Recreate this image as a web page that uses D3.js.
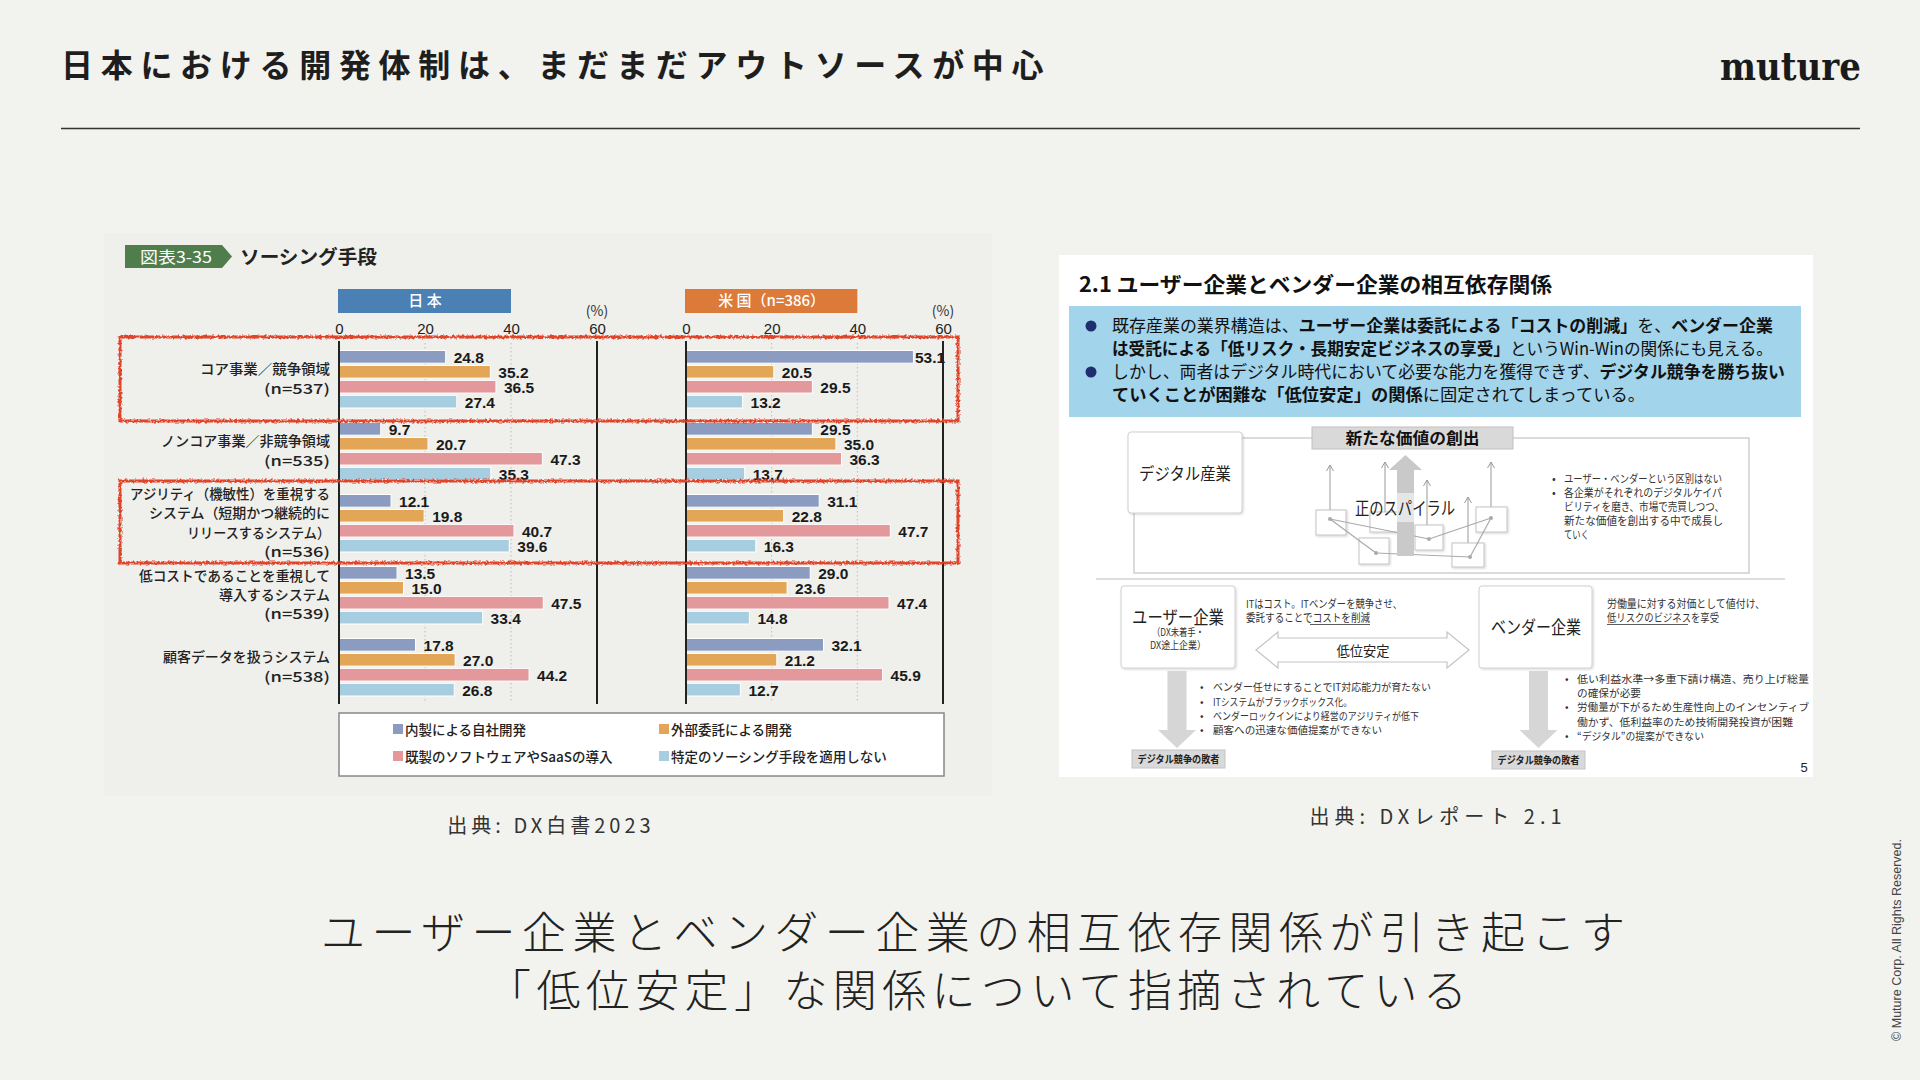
<!DOCTYPE html>
<html><head><meta charset="utf-8">
<script src="https://cdn.jsdelivr.net/npm/d3@7"></script>
<style>html,body{margin:0;padding:0;background:#f2f2ee;} svg{display:block;}</style>
</head><body><svg id="s" width="1920" height="1080"></svg>
<script>
// ---------------- data ----------------
const categories = ["core", "noncore", "agility", "lowcost", "customer"];
const categoryLines = [
  ["コア事業／競争領域", "(n=537)"],
  ["ノンコア事業／非競争領域", "(n=535)"],
  ["アジリティ（機敏性）を重視する", "システム（短期かつ継続的に", "リリースするシステム）", "(n=536)"],
  ["低コストであることを重視して", "導入するシステム", "(n=539)"],
  ["顧客データを扱うシステム", "(n=538)"]
];
const seriesNames = ["内製による自社開発", "外部委託による開発", "既製のソフトウェアやSaaSの導入", "特定のソーシング手段を適用しない"];
const japanInhouse   = [24.8, 9.7, 12.1, 13.5, 17.8];
const japanOutsource = [35.2, 20.7, 19.8, 15.0, 27.0];
const japanSaaS      = [36.5, 47.3, 40.7, 47.5, 44.2];
const japanNone      = [27.4, 35.3, 39.6, 33.4, 26.8];
const usInhouse      = [53.1, 29.5, 31.1, 29.0, 32.1];
const usOutsource    = [20.5, 35.0, 22.8, 23.6, 21.2];
const usSaaS         = [29.5, 36.3, 47.7, 47.4, 45.9];
const usNone         = [13.2, 13.7, 16.3, 14.8, 12.7];
const tickValues = [0, 20, 40, 60];
const panelHeaders = ["日 本", "米 国（n=386）"];

// ---------------- setup ----------------
const JP = "'Noto Sans CJK JP','Noto Sans',sans-serif";
const NUM = "'Liberation Sans Narrow','Liberation Sans',sans-serif";
const seriesColors = ["#8c9cc1", "#e2a656", "#e3999c", "#a7cde0"];
const svg = d3.select("#s");
const defs = svg.append("defs");
const rough = defs.append("filter").attr("id", "rough").attr("x", "-3%").attr("y", "-20%").attr("width", "106%").attr("height", "140%");
rough.append("feTurbulence").attr("type", "fractalNoise").attr("baseFrequency", "0.4").attr("numOctaves", 2).attr("seed", 4).attr("result", "n");
rough.append("feDisplacementMap").attr("in", "SourceGraphic").attr("in2", "n").attr("scale", 4).attr("xChannelSelector", "R").attr("yChannelSelector", "G");
const shadow = defs.append("filter").attr("id", "sh").attr("x", "-10%").attr("y", "-10%").attr("width", "130%").attr("height", "130%");
shadow.append("feDropShadow").attr("dx", 1).attr("dy", 1).attr("stdDeviation", 1.2).attr("flood-color", "#000").attr("flood-opacity", 0.18);

function T(p, x, y, s, o = {}) {
  const t = p.append("text").attr("x", x).attr("y", y).text(s)
    .attr("font-family", o.family || JP).attr("font-size", o.size || 12)
    .attr("font-weight", o.weight || 400).attr("fill", o.fill || "#222")
    .attr("text-anchor", o.anchor || "start");
  if (o.len) t.attr("textLength", o.len).attr("lengthAdjust", o.adj || "spacingAndGlyphs");
  if (o.ls) t.attr("letter-spacing", o.ls);
  return t;
}

svg.append("rect").attr("width", 1920).attr("height", 1080).attr("fill", "#f2f2ee");

// ---------------- header ----------------
T(svg, 61, 77, "日本における開発体制は、まだまだアウトソースが中心", { size: 32, weight: 700, ls: 7.7, fill: "#1e1e1e" });
T(svg, 1720, 80, "muture", { family: "'DejaVu Serif',serif", size: 40, weight: 700, len: 141, fill: "#1a1a1a" });
svg.append("line").attr("x1", 61).attr("x2", 1860).attr("y1", 128.5).attr("y2", 128.5).attr("stroke", "#333").attr("stroke-width", 1.5);

// ---------------- left chart image ----------------
const L = svg.append("g");
L.append("rect").attr("x", 104).attr("y", 233).attr("width", 888).attr("height", 563).attr("fill", "#efefeb");
L.append("path").attr("d", "M125,245 H222 L232,256.5 L222,268 H125 Z").attr("fill", "#4f7d4b");
T(L, 176, 263, "図表3-35", { size: 16, fill: "#fff", anchor: "middle", len: 72 });
T(L, 240, 264, "ソーシング手段", { size: 19, weight: 700, fill: "#222", len: 137 });

const yBand = d3.scaleBand().domain(categories).range([343, 703]);
const inner = d3.scaleBand().domain(d3.range(4)).range([7.5, 65]).paddingInner(0.15);

function drawPanel(xRange, data, header, headerColor) {
  const x = d3.scaleLinear().domain([0, 60]).range(xRange);
  const g = L.append("g");
  g.append("rect").attr("x", x(0) - 1).attr("y", 289).attr("width", x(40) - x(0) + 1).attr("height", 24).attr("fill", headerColor);
  T(g, (x(0) + x(40)) / 2, 306, header, { size: 15, fill: "#fff", anchor: "middle", weight: 500 });
  T(g, x(60), 316, "(%)", { size: 14, anchor: "middle", fill: "#333" });
  g.selectAll(".grid").data([20, 40]).join("line")
    .attr("x1", d => x(d)).attr("x2", d => x(d)).attr("y1", 343).attr("y2", 703)
    .attr("stroke", "#bbb").attr("stroke-width", 1).attr("stroke-dasharray", "1.5,2.5");
  const ax = g.append("g").attr("transform", "translate(0,340)")
    .call(d3.axisTop(x).tickValues(tickValues).tickSize(0).tickPadding(6).tickFormat(d3.format("d")));
  ax.select(".domain").remove();
  ax.selectAll("text").attr("font-family", NUM).attr("font-size", 15).attr("fill", "#222");
  data.forEach((vals, si) => {
    g.selectAll(null).data(vals).join("rect")
      .attr("x", x(0)).attr("y", (d, i) => yBand(categories[i]) + inner(si))
      .attr("width", d => x(d) - x(0)).attr("height", inner.bandwidth())
      .attr("fill", seriesColors[si]).attr("stroke", "#fff").attr("stroke-width", 1);
    g.selectAll(null).data(vals).join("text")
      .attr("x", d => Math.min(x(d) + 8, x(60) - 28)).attr("y", (d, i) => yBand(categories[i]) + inner(si) + inner.bandwidth())
      .text(d => d.toFixed(1)).attr("font-family", NUM).attr("font-weight", 700)
      .attr("font-size", 15.5).attr("fill", "#1a1a1a");
  });
  g.append("line").attr("x1", x(0)).attr("x2", x(0)).attr("y1", 341).attr("y2", 704).attr("stroke", "#222").attr("stroke-width", 2);
  g.append("line").attr("x1", x(60)).attr("x2", x(60)).attr("y1", 341).attr("y2", 704).attr("stroke", "#222").attr("stroke-width", 2);
  return x;
}
drawPanel([339, 597], [japanInhouse, japanOutsource, japanSaaS, japanNone], panelHeaders[0], "#4b80b5");
drawPanel([686, 943], [usInhouse, usOutsource, usSaaS, usNone], panelHeaders[1], "#dc7a39");

// category labels (widths)
const labelWidths = [[130, 66], [169, 66], [200, 181, 143, 66], [191, 111, 66], [167, 66]];
categoryLines.forEach((lines, ci) => {
  const cy = yBand(categories[ci]) + yBand.bandwidth() / 2;
  lines.forEach((ln, li) => {
    T(L, 330, cy + (li - (lines.length - 1) / 2) * 19.3 + 5, ln, { size: 14, weight: 500, anchor: "end", fill: "#222", len: labelWidths[ci][li] });
  });
});

// legend
L.append("rect").attr("x", 339).attr("y", 713).attr("width", 605).attr("height", 63).attr("fill", "#fff").attr("stroke", "#888").attr("stroke-width", 1.5);
const legendPos = [[393, 735], [659, 735], [393, 762], [659, 762]];
seriesNames.forEach((nm, i) => {
  L.append("rect").attr("x", legendPos[i][0]).attr("y", legendPos[i][1] - 11).attr("width", 10).attr("height", 10).attr("fill", seriesColors[i]);
  T(L, legendPos[i][0] + 12, legendPos[i][1], nm, { size: 13.5, weight: 500, fill: "#222" });
});

// red highlight boxes
[[337, 421], [481, 563]].forEach(([y0, y1]) => {
  L.append("rect").attr("x", 120).attr("y", y0).attr("width", 838).attr("height", y1 - y0)
    .attr("fill", "none").attr("stroke", "#e0452c").attr("stroke-width", 3).attr("filter", "url(#rough)");
});

T(svg, 551, 833, "出典: DX白書2023", { size: 20, ls: 4, anchor: "middle", fill: "#333" });
T(svg, 1438, 824, "出典: DXレポート 2.1", { size: 20, ls: 5, anchor: "middle", fill: "#333" });

// ---------------- right report image ----------------
const R = svg.append("g");
R.append("rect").attr("x", 1059).attr("y", 255).attr("width", 754).attr("height", 522).attr("fill", "#fff");
T(R, 1079, 292, "2.1 ユーザー企業とベンダー企業の相互依存関係", { size: 21, weight: 700, len: 473, fill: "#111" });
R.append("rect").attr("x", 1069).attr("y", 306).attr("width", 732).attr("height", 111).attr("fill", "#a2d4eb");
const blueLines = [
  { y: 332, len: 661, bullet: true, parts: [["既存産業の業界構造は、", 0], ["ユーザー企業は委託による「コストの削減」", 1], ["を、", 0], ["ベンダー企業", 1]] },
  { y: 355, len: 661, bullet: false, parts: [["は受託による「低リスク・長期安定ビジネスの享受」", 1], ["というWin-Winの関係にも見える。", 0]] },
  { y: 378, len: 673, bullet: true, parts: [["しかし、両者はデジタル時代において必要な能力を獲得できず、", 0], ["デジタル競争を勝ち抜い", 1]] },
  { y: 401, len: 533, bullet: false, parts: [["ていくことが困難な「低位安定」の関係", 1], ["に固定されてしまっている。", 0]] }
];
blueLines.forEach(l => {
  if (l.bullet) R.append("circle").attr("cx", 1091).attr("cy", l.y - 6).attr("r", 5.5).attr("fill", "#1d2f6e");
  const t = R.append("text").attr("x", 1112).attr("y", l.y).attr("font-family", JP).attr("font-size", 17)
    .attr("fill", "#111").attr("textLength", l.len).attr("lengthAdjust", "spacingAndGlyphs");
  l.parts.forEach(p => t.append("tspan").text(p[0]).attr("font-weight", p[1] ? 700 : 400));
});

// upper diagram
R.append("rect").attr("x", 1134).attr("y", 438).attr("width", 615).attr("height", 135).attr("fill", "none").attr("stroke", "#c4c4c4").attr("stroke-width", 1.2);
R.append("rect").attr("x", 1128).attr("y", 432).attr("width", 114).attr("height", 81).attr("rx", 3).attr("fill", "#fff").attr("stroke", "#d0d0d0").attr("filter", "url(#sh)");
T(R, 1185, 480, "デジタル産業", { size: 17, anchor: "middle", len: 92, fill: "#222" });
R.append("rect").attr("x", 1312).attr("y", 427).attr("width", 201).attr("height", 22).attr("fill", "#d9d9d9").attr("stroke", "#c0c0c0");
T(R, 1412.5, 444, "新たな価値の創出", { size: 16, weight: 700, anchor: "middle", len: 134, fill: "#111" });

const thin = [[1330, 465, 510], [1385, 462, 512], [1427, 480, 525], [1468, 497, 543], [1491, 462, 507]];
thin.forEach(([x, y0, y1]) => {
  R.append("line").attr("x1", x).attr("x2", x).attr("y1", y0).attr("y2", y1).attr("stroke", "#999").attr("stroke-width", 1);
  R.append("path").attr("d", `M${x - 3.5},${y0 + 6} L${x},${y0} L${x + 3.5},${y0 + 6}`).attr("fill", "none").attr("stroke", "#999").attr("stroke-width", 1);
});
const smallBoxes = [[1316, 510, 30, 25], [1359, 538, 30, 26], [1370, 512, 29, 20], [1415, 525, 28, 25], [1452, 543, 32, 24], [1476, 507, 31, 25]];
smallBoxes.forEach(([x, y, w, h]) => R.append("rect").attr("x", x).attr("y", y).attr("width", w).attr("height", h).attr("fill", "#fff").attr("stroke", "#c4c4c4").attr("filter", "url(#sh)"));
const dots = { a: [1330, 519], b: [1376, 553], d: [1429, 539], e: [1470, 557], f: [1491, 518] };
[["a", "d"], ["a", "b"], ["b", "e"], ["d", "f"], ["e", "f"]].forEach(([p, q]) => {
  R.append("line").attr("x1", dots[p][0]).attr("y1", dots[p][1]).attr("x2", dots[q][0]).attr("y2", dots[q][1]).attr("stroke", "#aaa").attr("stroke-width", 1.2);
});
Object.values(dots).forEach(([x, y]) => R.append("circle").attr("cx", x).attr("cy", y).attr("r", 2).attr("fill", "#aaa"));
R.append("path").attr("d", "M1405.5,455 L1422,470 L1414,470 L1414,556 L1397,556 L1397,470 L1389,470 Z").attr("fill", "#c9c9c9");
R.append("rect").attr("x", 1397).attr("y", 493).attr("width", 17).attr("height", 29).attr("fill", "#e6e6e6");
T(R, 1405, 515, "正のスパイラル", { size: 18, anchor: "middle", len: 100, fill: "#222" });
const upBul = [[483, "ユーザー・ベンダーという区別はない", 158, true], [497, "各企業がそれぞれのデジタルケイパ", 158, true], [511, "ビリティを磨き、市場で売買しつつ、", 160, false], [525, "新たな価値を創出する中で成長し", 159, false], [539, "ていく", 25, false]];
upBul.forEach(([y, s, len, b]) => {
  if (b) T(R, 1552, y, "•", { size: 11, fill: "#333" });
  T(R, 1564, y, s, { size: 11, len: len, fill: "#333" });
});
R.append("line").attr("x1", 1096).attr("x2", 1785).attr("y1", 579).attr("y2", 579).attr("stroke", "#bbb").attr("stroke-width", 1.2);

// lower diagram
R.append("rect").attr("x", 1121).attr("y", 586).attr("width", 114).attr("height", 82).attr("rx", 3).attr("fill", "#fff").attr("stroke", "#d0d0d0").attr("filter", "url(#sh)");
T(R, 1178, 624, "ユーザー企業", { size: 18, anchor: "middle", len: 92, fill: "#222" });
T(R, 1178, 636, "（DX未着手・", { size: 10.5, anchor: "middle", len: 52, fill: "#333" });
T(R, 1178, 649, "DX途上企業）", { size: 10.5, anchor: "middle", len: 56, fill: "#333" });
R.append("rect").attr("x", 1479).attr("y", 586).attr("width", 113).attr("height", 82).attr("rx", 3).attr("fill", "#fff").attr("stroke", "#d0d0d0").attr("filter", "url(#sh)");
T(R, 1536, 634, "ベンダー企業", { size: 18, anchor: "middle", len: 90, fill: "#222" });
T(R, 1246, 608, "ITはコスト。ITベンダーを競争させ、", { size: 11, len: 156, fill: "#333" });
T(R, 1246, 622, "委託することでコストを削減", { size: 11, len: 124, fill: "#333" });
R.append("line").attr("x1", 1310).attr("x2", 1370).attr("y1", 624.5).attr("y2", 624.5).attr("stroke", "#333").attr("stroke-width", 0.8);
T(R, 1607, 608, "労働量に対する対価として値付け、", { size: 11, len: 158, fill: "#333" });
T(R, 1607, 622, "低リスクのビジネスを享受", { size: 11, len: 112, fill: "#333" });
R.append("line").attr("x1", 1607).attr("x2", 1688).attr("y1", 624.5).attr("y2", 624.5).attr("stroke", "#333").attr("stroke-width", 0.8);
R.append("path").attr("d", "M1256,650 L1278,632 L1278,638 L1447,638 L1447,632 L1469,650 L1447,668 L1447,662 L1278,662 L1278,668 Z")
  .attr("fill", "#fff").attr("stroke", "#c4c4c4").attr("stroke-width", 1.2);
T(R, 1363, 656, "低位安定", { size: 14, anchor: "middle", len: 53, fill: "#222" });
[1177, 1538.5].forEach(cx => {
  R.append("path").attr("d", `M${cx - 9.5},671 L${cx + 9.5},671 L${cx + 9.5},730 L${cx + 19},730 L${cx},748 L${cx - 19},730 L${cx - 9.5},730 Z`).attr("fill", "#d6d6d6");
});
const leftBul = [[691, "ベンダー任せにすることでIT対応能力が育たない", 218], [706, "ITシステムがブラックボックス化。", 139], [720, "ベンダーロックインにより経営のアジリティが低下", 206], [734, "顧客への迅速な価値提案ができない", 169]];
leftBul.forEach(([y, s, len]) => {
  T(R, 1200, y, "•", { size: 10.5, fill: "#333" });
  T(R, 1213, y, s, { size: 10.5, len: len, fill: "#333" });
});
const rightBul = [[683, "低い利益水準→多重下請け構造、売り上げ総量", 232, true], [697, "の確保が必要", 64, false], [711, "労働量が下がるため生産性向上のインセンティブ", 232, true], [726, "働かず、低利益率のため技術開発投資が困難", 216, false], [740, "“デジタル”の提案ができない", 127, true]];
rightBul.forEach(([y, s, len, b]) => {
  if (b) T(R, 1565, y, "•", { size: 10.5, fill: "#333" });
  T(R, 1577, y, s, { size: 10.5, len: len, fill: "#333" });
});
[[1132, 750], [1492, 751]].forEach(([x, y]) => {
  R.append("rect").attr("x", x).attr("y", y).attr("width", 93).attr("height", 18).attr("fill", "#d9d9d9").attr("stroke", "#c4c4c4");
  T(R, x + 46.5, y + 13, "デジタル競争の敗者", { size: 10.5, weight: 700, anchor: "middle", len: 82, fill: "#222" });
});
T(R, 1804, 772, "5", { family: "'Liberation Sans',sans-serif", size: 13, anchor: "middle", fill: "#222" });

// ---------------- bottom message ----------------
T(svg, 973, 949, "ユーザー企業とベンダー企業の相互依存関係が引き起こす", { size: 44, weight: 300, anchor: "middle", fill: "#222", len: 1304, adj: "spacing" });
T(svg, 977, 1007, "「低位安定」な関係について指摘されている", { size: 44, weight: 300, anchor: "middle", fill: "#222", len: 980, adj: "spacing" });

// copyright
T(svg, 0, 0, "© Muture Corp. All Rights Reserved.", { family: "'Liberation Sans',Arial,sans-serif", size: 12.5, fill: "#444", len: 202 })
  .attr("transform", "translate(1901,1041) rotate(-90)");
</script>
</body></html>
